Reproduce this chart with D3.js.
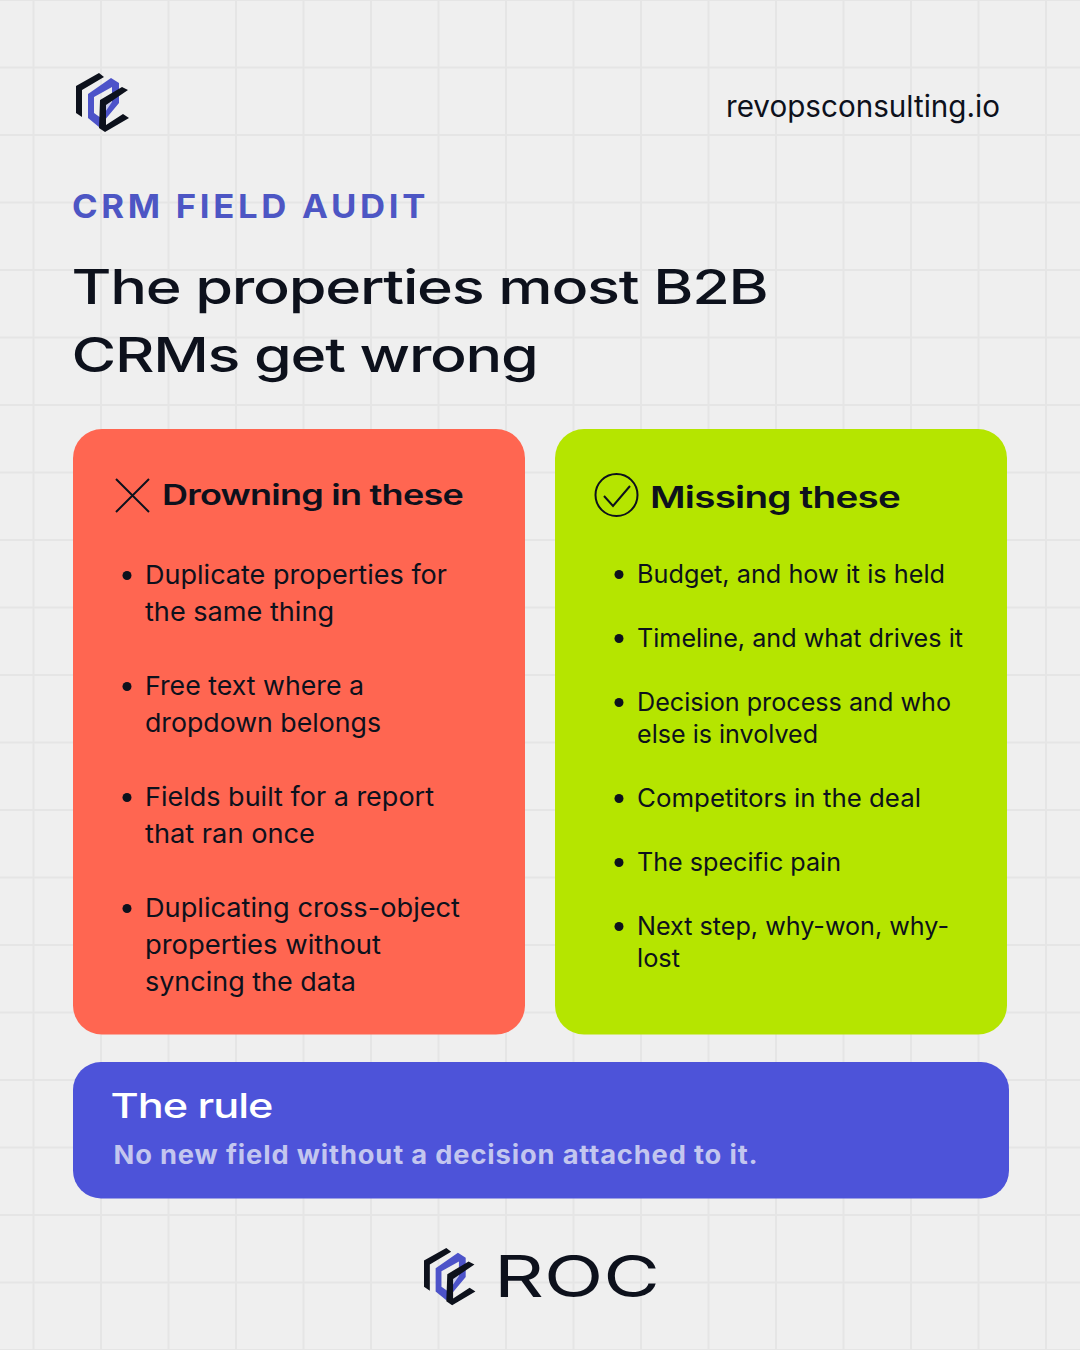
<!DOCTYPE html>
<html><head><meta charset="utf-8">
<script src="https://cdn.jsdelivr.net/npm/d3@7"></script>
<style>html,body{margin:0;padding:0;background:#efefef}svg{display:block}</style>
</head><body><div id="c"></div>
<script>
const eyebrow = "CRM FIELD AUDIT";
const site = "revopsconsulting.io";
const titleLines = ["The properties most B2B", "CRMs get wrong"];
const leftHeading = "Drowning in these";
const rightHeading = "Missing these";
const leftItems = [
  ["Duplicate properties for", "the same thing"],
  ["Free text where a", "dropdown belongs"],
  ["Fields built for a report", "that ran once"],
  ["Duplicating cross-object", "properties without", "syncing the data"]
];
const rightItems = [
  ["Budget, and how it is held"],
  ["Timeline, and what drives it"],
  ["Decision process and who", "else is involved"],
  ["Competitors in the deal"],
  ["The specific pain"],
  ["Next step, why-won, why-", "lost"]
];
const ruleTitle = "The rule";
const ruleText = "No new field without a decision attached to it.";
const brand = "ROC";

// layout only
const W = 1080, H = 1350;
const ink = "#0d111c", body = "Inter, 'Noto Sans', sans-serif";
const widths = new Map(Object.entries({
  "Duplicate properties for":302,"the same thing":189,"Free text where a":219,"dropdown belongs":236,
  "Fields built for a report":289,"that ran once":170,"Duplicating cross-object":315,"properties without":236,"syncing the data":211,
  "Budget, and how it is held":308,"Timeline, and what drives it":326,"Decision process and who":314,"else is involved":181,
  "Competitors in the deal":284,"The specific pain":204,"Next step, why-won, why-":312,"lost":43
}));

const svg = d3.select("#c").append("svg").attr("width", W).attr("height", H).attr("viewBox", `0 0 ${W} ${H}`);
svg.append("rect").attr("width", W).attr("height", H).attr("fill", "#efefef");

const gridX = d3.scaleLinear().domain([0, 16]).range([33.5, 1113.5]);
const gridY = d3.scaleLinear().domain([0, 20]).range([0, 1350]);
const grid = svg.append("g").attr("stroke", "#e5e5e5").attr("stroke-width", 2);
grid.selectAll("line.v").data(d3.range(0, 16)).join("line").attr("class","v")
  .attr("x1", d => gridX(d)).attr("x2", d => gridX(d)).attr("y1", 0).attr("y2", H);
grid.selectAll("line.h").data(d3.range(0, 21)).join("line").attr("class","h")
  .attr("y1", d => gridY(d)).attr("y2", d => gridY(d)).attr("x1", 0).attr("x2", W);

function text(g, s, x, y, o) {
  const t = g.append("text").text(s).attr("x", x).attr("y", y)
    .attr("font-family", o.family || body).attr("font-size", o.size)
    .attr("font-weight", o.weight || 400).attr("fill", o.fill || ink);
  if (o.ls) t.attr("letter-spacing", o.ls);
  if (o.width) t.attr("textLength", o.width).attr("lengthAdjust", "spacingAndGlyphs");
  return t;
}

// logo
const logoBack = "M76 86 L99 73 L104 77 L82 90 L82 117 L76 113 Z";
const logoMid = "M88 94 L111 78 L119 83 L119 103 L99 127 L88 118 Z M94 97 L94 113 L101 118 L112 102 L112 87 Z";
const logoTint = "M106 105 L112 100 L112 103 L106 111 Z";
const logoFront = "M100 100 L122 87 L128 90 L106 105 L106 125 L123 114 L129 118 L105 132 L99 128 Z";
function logo(tx, ty, k) {
  const g = svg.append("g").attr("transform", `translate(${tx},${ty}) scale(${k})`);
  g.append("path").attr("d", logoBack).attr("fill", ink);
  g.append("path").attr("d", logoTint).attr("fill", "#c9cbea");
  g.append("path").attr("d", logoMid).attr("fill", "#4d53c9").attr("fill-rule", "evenodd");
  g.append("path").attr("d", logoFront).attr("fill", ink);
}
logo(0, 0, 1);
logo(424 - 76 * 0.97, 1247 - 72 * 0.97, 0.97);

const head = svg.append("g");
text(head, site, 726, 117, {size: 30, width: 274});
text(head, eyebrow, 72, 217.5, {size: 33, weight: 700, fill: "#4d56c4", ls: 3.5, width: 357});
text(head, titleLines[0], 71.5, 304, {size: 48, weight: 500, ls: -1, width: 696});
text(head, titleLines[1], 71.5, 372, {size: 48, weight: 500, ls: -1, width: 466});

// cards
const cards = svg.append("g");
cards.append("rect").attr("x", 73).attr("y", 429).attr("width", 452).attr("height", 605.5).attr("rx", 29).attr("fill", "#ff6651");
cards.append("rect").attr("x", 555).attr("y", 429).attr("width", 452).attr("height", 605.5).attr("rx", 29).attr("fill", "#b5e500");
cards.append("rect").attr("x", 73).attr("y", 1062).attr("width", 936).attr("height", 136.5).attr("rx", 28).attr("fill", "#4d53d9");

// icons
cards.append("path").attr("d", "M116 479 L149 512 M149 479 L116 512").attr("stroke", ink).attr("stroke-width", 2).attr("fill", "none");
cards.append("circle").attr("cx", 616.5).attr("cy", 495).attr("r", 21).attr("stroke", ink).attr("stroke-width", 2).attr("fill", "none");
cards.append("path").attr("d", "M604 496 L613 506 L630 486").attr("stroke", ink).attr("stroke-width", 2).attr("fill", "none");

text(cards, leftHeading, 162, 505, {size: 28, weight: 600, ls: -0.6, width: 301});
text(cards, rightHeading, 650, 507.5, {size: 30, weight: 600, ls: -0.6, width: 250});

function list(items, tx, bx, starts, pitch, size) {
  const g = svg.append("g");
  items.forEach((lines, i) => {
    g.append("circle").attr("cx", bx).attr("cy", starts[i] - 8).attr("r", 4.5).attr("fill", ink);
    lines.forEach((s, j) => text(g, s, tx, starts[i] + j * pitch, {size, width: widths.get(s)}));
  });
}
list(leftItems, 145, 127, [583.5, 694.5, 805.5, 916.5], 37, 26);
list(rightItems, 637, 619, [582.5, 646.5, 710.5, 806.5, 870.5, 934.5], 32, 25);

text(cards, ruleTitle, 110.5, 1118, {size: 34, weight: 500, fill: "#fff", ls: -0.8, width: 162});
text(cards, ruleText, 113.5, 1164, {size: 26, weight: 700, fill: "#c3c6ef", ls: 0.8, width: 645});

text(svg, brand, 494, 1297, {size: 57, weight: 400, width: 166});
</script></body></html>
